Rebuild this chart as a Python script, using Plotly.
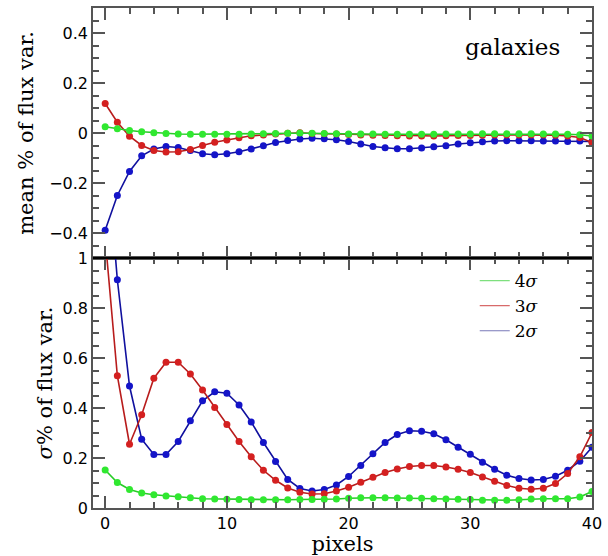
import plotly.graph_objects as go
from plotly.subplots import make_subplots

pixels = list(range(41))

mean_4sig = [0.025, 0.017, 0.010, 0.005, 0.001, -0.002, -0.004, -0.005, -0.005, -0.005,
             -0.005, -0.005, -0.004, -0.003, -0.002, -0.001, 0.000, -0.001, -0.002, -0.003,
             -0.004, -0.004, -0.004, -0.005, -0.005, -0.005, -0.005, -0.005, -0.004, -0.004,
             -0.004, -0.003, -0.003, -0.003, -0.003, -0.003, -0.004, -0.004, -0.005, -0.007, -0.012]
mean_3sig = [0.118, 0.043, -0.013, -0.050, -0.070, -0.076, -0.075, -0.066, -0.050, -0.037,
             -0.028, -0.019, -0.011, -0.008, -0.004, -0.001, 0.001, -0.002, -0.003, -0.004,
             -0.006, -0.008, -0.009, -0.010, -0.011, -0.012, -0.012, -0.012, -0.011, -0.010,
             -0.010, -0.009, -0.008, -0.008, -0.008, -0.008, -0.008, -0.009, -0.012, -0.018, -0.038]
mean_2sig = [-0.389, -0.250, -0.154, -0.091, -0.064, -0.054, -0.058, -0.070, -0.083, -0.087,
             -0.083, -0.075, -0.064, -0.051, -0.038, -0.030, -0.024, -0.021, -0.023, -0.027,
             -0.034, -0.044, -0.054, -0.059, -0.063, -0.063, -0.060, -0.055, -0.051, -0.044,
             -0.039, -0.035, -0.032, -0.031, -0.031, -0.031, -0.032, -0.032, -0.034, -0.032, -0.034]

sig_4sig = [0.152, 0.102, 0.074, 0.060, 0.053, 0.048, 0.045, 0.041, 0.037, 0.036,
            0.035, 0.034, 0.033, 0.033, 0.033, 0.033, 0.034, 0.034, 0.035, 0.036,
            0.039, 0.041, 0.041, 0.041, 0.040, 0.040, 0.039, 0.037, 0.036, 0.035,
            0.034, 0.031, 0.031, 0.031, 0.033, 0.036, 0.037, 0.037, 0.037, 0.044, 0.066]
sig_3sig = [1.08, 0.529, 0.255, 0.373, 0.519, 0.583, 0.583, 0.536, 0.472, 0.402,
            0.334, 0.266, 0.205, 0.151, 0.111, 0.080, 0.063, 0.056, 0.057, 0.068,
            0.083, 0.103, 0.123, 0.142, 0.156, 0.166, 0.170, 0.170, 0.164, 0.155,
            0.142, 0.124, 0.107, 0.090, 0.079, 0.075, 0.079, 0.098, 0.138, 0.205, 0.302]
sig_2sig = [1.50, 0.913, 0.488, 0.275, 0.214, 0.214, 0.266, 0.349, 0.429, 0.465,
            0.459, 0.412, 0.344, 0.262, 0.186, 0.114, 0.078, 0.068, 0.074, 0.092,
            0.126, 0.170, 0.217, 0.262, 0.294, 0.309, 0.307, 0.297, 0.273, 0.243,
            0.215, 0.183, 0.155, 0.131, 0.118, 0.112, 0.114, 0.127, 0.151, 0.187, 0.243]

names = ["4<i>σ</i>", "3<i>σ</i>", "2<i>σ</i>"]
colors = {"4": "#30e830", "3": "#d42020", "2": "#1414c8"}
line_colors = {"4": "#28cc28", "3": "#b81c1c", "2": "#10109e"}

x_range = [-1, 40]
mean_range = [-0.5, 0.5]
sig_range = [0, 1]

fig = make_subplots(rows=2, cols=1, shared_xaxes=True, vertical_spacing=0)

series = [("2", mean_2sig, sig_2sig), ("3", mean_3sig, sig_3sig), ("4", mean_4sig, sig_4sig)]
for key, m, s in series:
    for row, yv in ((1, m), (2, s)):
        fig.add_trace(go.Scatter(
            x=pixels, y=yv, mode="lines+markers",
            line=dict(color=line_colors[key], width=1.6),
            marker=dict(color=colors[key], size=7),
            showlegend=False), row=row, col=1)

legend_light = {"4": "#7ee07e", "3": "#d86a6a", "2": "#7878b8"}
for key, label in zip(["4", "3", "2"], names):
    fig.add_trace(go.Scatter(x=[None], y=[None], mode="lines", name=label,
                             line=dict(color=legend_light[key], width=1.2),
                             showlegend=True), row=2, col=1)

tickfont = dict(family="DejaVu Sans", size=16, color="black")
titlefont = dict(family="DejaVu Serif", size=21, color="black")
axcol = "#555555"

base = dict(showline=True, linecolor=axcol, linewidth=1.5, mirror="ticks",
            ticks="inside", tickwidth=1.5, tickcolor=axcol,
            showgrid=False, zeroline=False, tickfont=tickfont, automargin=False,
            tickmode="linear", tick0=0)
overlay_base = dict(showline=False, mirror="ticks", ticks="inside",
                    tickwidth=1.5, tickcolor=axcol, showgrid=False, zeroline=False,
                    showticklabels=False, automargin=False, tickmode="linear", tick0=0)

layout_axes = dict(
    xaxis=dict(**base, range=x_range, dtick=10, ticklen=12, showticklabels=False),
    xaxis2=dict(**base, range=x_range, dtick=10, ticklen=12,
                title=dict(text="pixels", font=titlefont, standoff=2)),
    yaxis=dict(**base, range=mean_range, dtick=0.2, ticklen=12,
               title=dict(text="mean % of flux var.", font=titlefont, standoff=10)),
    yaxis2=dict(**base, range=sig_range, dtick=0.2, ticklen=12,
                title=dict(text="<i>σ</i>% of flux var.", font=titlefont, standoff=4)),
)

# extra tick-only axes (major ticks on the far side, minor ticks on both sides)
nx, ny = 3, 3
dummy_pairs = []
for mx, my, yr in (("x", "y", mean_range), ("x2", "y2", sig_range)):
    for side, dt, ln in (("top", 10, 12), ("bottom", 2, 6), ("top", 2, 6)):
        layout_axes["xaxis%d" % nx] = dict(**overlay_base, overlaying=mx, anchor=my,
                                           side=side, range=x_range, dtick=dt, ticklen=ln)
        dummy_pairs.append(("x%d" % nx, my))
        nx += 1
    for side, dt, ln in (("right", 0.2, 12), ("left", 0.05, 6), ("right", 0.05, 6)):
        layout_axes["yaxis%d" % ny] = dict(**overlay_base, overlaying=my, anchor=mx,
                                           side=side, range=yr, dtick=dt, ticklen=ln)
        dummy_pairs.append((mx, "y%d" % ny))
        ny += 1

for xa, ya in dummy_pairs:
    fig.add_trace(go.Scatter(x=[None], y=[None], xaxis=xa, yaxis=ya,
                             showlegend=False, hoverinfo="skip"))

fig.update_layout(**layout_axes)

fig.add_shape(type="line", xref="paper", yref="paper", x0=0, x1=1, y0=0.5, y1=0.5,
              line=dict(color="black", width=2))

fig.add_annotation(text="galaxies", xref="paper", yref="paper", x=0.94, y=0.921,
                   xanchor="right", yanchor="middle", showarrow=False,
                   font=dict(family="DejaVu Serif", size=23, color="black"))

fig.update_layout(
    width=608, height=556,
    margin=dict(l=93, r=16, t=8, b=48, autoexpand=False),
    paper_bgcolor="white", plot_bgcolor="white",
    legend=dict(x=0.765, y=0.49, xanchor="left", yanchor="top",
                traceorder="normal", bgcolor="rgba(0,0,0,0)",
                font=dict(family="DejaVu Serif", size=17, color="black"),
                tracegroupgap=0, itemwidth=30),
)

fig.write_html("out.html")
